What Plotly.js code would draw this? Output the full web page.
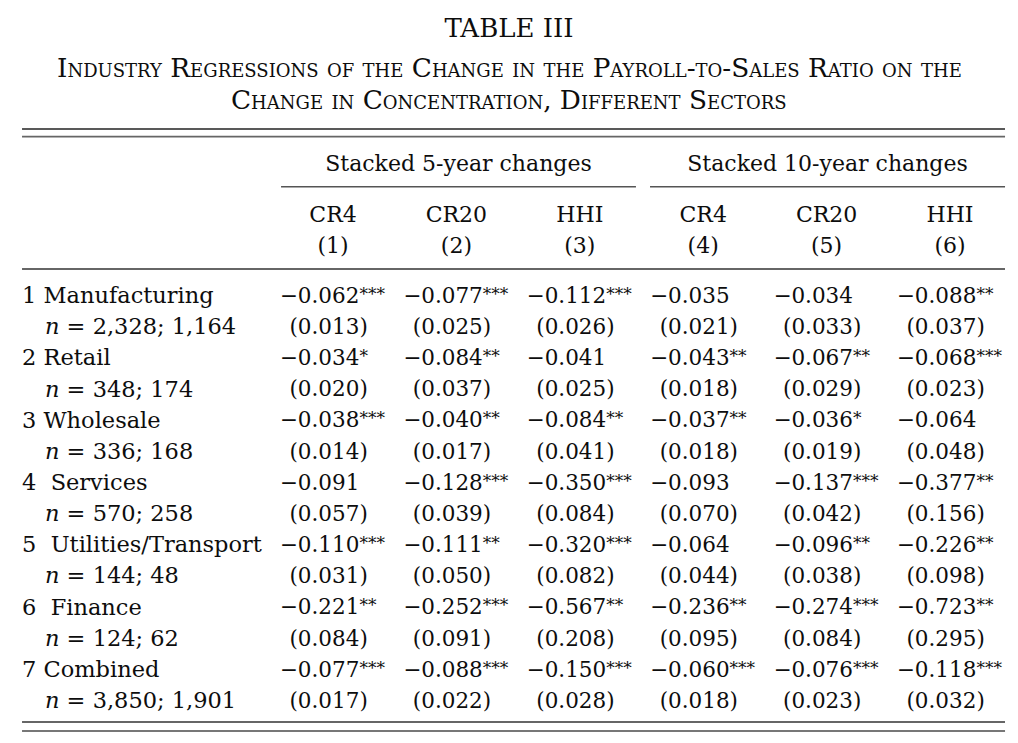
<!DOCTYPE html>
<html>
<head>
<meta charset="utf-8">
<script src="https://cdn.plot.ly/plotly-3.0.1.min.js"></script>
<style>html,body{margin:0;padding:0;background:#fff;}#chart{width:1018px;height:743px;}</style>
</head>
<body>
<div id="chart"></div>
<script>
// ---------- data ----------
const tableTitle = "TABLE III";
const subtitleLine1 = "Industry Regressions of the Change in the Payroll-to-Sales Ratio on the";
const subtitleLine2 = "Change in Concentration, Different Sectors";
const groupLabels = ["Stacked 5-year changes", "Stacked 10-year changes"];
const measureLabels = ["CR4", "CR20", "HHI", "CR4", "CR20", "HHI"];
const columnNumbers = ["(1)", "(2)", "(3)", "(4)", "(5)", "(6)"];
const sectorNames = ["1 Manufacturing", "2 Retail", "3 Wholesale", "4\u00a0 Services",
  "5\u00a0 Utilities/Transport", "6\u00a0 Finance", "7 Combined"];
const sampleSizes = ["2,328; 1,164", "348; 174", "336; 168", "570; 258", "144; 48", "124; 62", "3,850; 1,901"];

const coefCR4_5yr  = [-0.062, -0.034, -0.038, -0.091, -0.110, -0.221, -0.077];
const coefCR20_5yr = [-0.077, -0.084, -0.040, -0.128, -0.111, -0.252, -0.088];
const coefHHI_5yr  = [-0.112, -0.041, -0.084, -0.350, -0.320, -0.567, -0.150];
const coefCR4_10yr = [-0.035, -0.043, -0.037, -0.093, -0.064, -0.236, -0.060];
const coefCR20_10yr= [-0.034, -0.067, -0.036, -0.137, -0.096, -0.274, -0.076];
const coefHHI_10yr = [-0.088, -0.068, -0.064, -0.377, -0.226, -0.723, -0.118];

const starsCR4_5yr  = [3, 1, 3, 0, 3, 2, 3];
const starsCR20_5yr = [3, 2, 2, 3, 2, 3, 3];
const starsHHI_5yr  = [3, 0, 2, 3, 3, 2, 3];
const starsCR4_10yr = [0, 2, 2, 0, 0, 2, 3];
const starsCR20_10yr= [0, 2, 1, 3, 2, 3, 3];
const starsHHI_10yr = [2, 3, 0, 2, 2, 2, 3];

const seCR4_5yr  = [0.013, 0.020, 0.014, 0.057, 0.031, 0.084, 0.017];
const seCR20_5yr = [0.025, 0.037, 0.017, 0.039, 0.050, 0.091, 0.022];
const seHHI_5yr  = [0.026, 0.025, 0.041, 0.084, 0.082, 0.208, 0.028];
const seCR4_10yr = [0.021, 0.018, 0.018, 0.070, 0.044, 0.095, 0.018];
const seCR20_10yr= [0.033, 0.029, 0.019, 0.042, 0.038, 0.084, 0.023];
const seHHI_10yr = [0.037, 0.023, 0.048, 0.156, 0.098, 0.295, 0.032];

// ---------- layout constants ----------
const FONT = "DejaVu Serif, Liberation Serif, serif";
const INK = "#0d0d0d";
const FS_NUM = 21.5, FS_LABEL = 22.5, FS_HEAD = 22;
const coefCols = [coefCR4_5yr, coefCR20_5yr, coefHHI_5yr, coefCR4_10yr, coefCR20_10yr, coefHHI_10yr];
const starCols = [starsCR4_5yr, starsCR20_5yr, starsHHI_5yr, starsCR4_10yr, starsCR20_10yr, starsHHI_10yr];
const seCols = [seCR4_5yr, seCR20_5yr, seHHI_5yr, seCR4_10yr, seCR20_10yr, seHHI_10yr];

const labelX = -1.52, nX = -1.334, digitOff = -0.285;
const yStacked = -4.241, yMeasure = -2.604, yNumber = -1.608;
const groupSpans = [[0.579, 3.455], [3.569, 6.446]];
const fullSpan = [-1.52, 6.446];

function textTrace(x, y, text, pos, size) {
  return {type: "scatter", mode: "text", x: x, y: y, text: text, textposition: pos,
    textfont: {family: FONT, size: size, color: INK}, hoverinfo: "skip", showlegend: false, cliponaxis: false};
}
function starText(n) {
  return n > 0 ? '<span style="font-size:17px;baseline-shift:3px">' + "*".repeat(n) + "</span>" : "";
}

const traces = [];
const rowsCoef = sectorNames.map((_, i) => 2 * i);
const rowsSE = sectorNames.map((_, i) => 2 * i + 1);
traces.push(textTrace(sectorNames.map(() => labelX), rowsCoef, sectorNames, "middle right", FS_LABEL));
traces.push(textTrace(sampleSizes.map(() => nX), rowsSE, sampleSizes.map(s => "<i>n</i> = " + s), "middle right", FS_LABEL));

const mx = [], my = [], mt = [], dx = [], dy = [], dt = [], px = [], py = [], pt = [], sx = [], sy = [], st = [];
coefCols.forEach((col, j) => {
  col.forEach((v, i) => {
    const xa = j + 1 + digitOff;
    if (v < 0) { mx.push(xa); my.push(2 * i); mt.push("\u2212"); }
    dx.push(xa); dy.push(2 * i);
    dt.push(Math.abs(v).toFixed(3) + starText(starCols[j][i]));
    px.push(xa); py.push(2 * i + 1); pt.push("(");
    sx.push(xa); sy.push(2 * i + 1); st.push(seCols[j][i].toFixed(3) + ")");
  });
});
traces.push(textTrace(mx, my, mt, "middle left", FS_NUM));
traces.push(textTrace(dx, dy, dt, "middle right", FS_NUM));
traces.push(textTrace(px, py, pt, "middle left", FS_NUM));
traces.push(textTrace(sx, sy, st, "middle right", FS_NUM));

// headers
traces.push(textTrace(groupSpans.map(s => (s[0] + s[1]) / 2), groupSpans.map(() => yStacked), groupLabels, "middle center", FS_HEAD));
traces.push(textTrace(measureLabels.map((_, j) => j + 1), measureLabels.map(() => yMeasure), measureLabels, "middle center", FS_HEAD));
traces.push(textTrace(columnNumbers.map((_, j) => j + 1), columnNumbers.map(() => yNumber), columnNumbers, "middle center", FS_HEAD));

function hline(x0, x1, y, w, c) {
  return {type: "line", xref: "x", yref: "y", x0: x0, x1: x1, y0: y, y1: y, line: {color: c, width: w}};
}
const shapes = [
  hline(fullSpan[0], fullSpan[1], -5.409, 1.4, "#222"),
  hline(fullSpan[0], fullSpan[1], -5.162, 1.8, "#666"),
  hline(groupSpans[0][0], groupSpans[0][1], -3.557, 1.4, "#555"),
  hline(groupSpans[1][0], groupSpans[1][1], -3.557, 1.4, "#555"),
  hline(fullSpan[0], fullSpan[1], -0.915, 1.6, "#333"),
  hline(fullSpan[0], fullSpan[1], 13.628, 1.4, "#333"),
  hline(fullSpan[0], fullSpan[1], 13.917, 1.8, "#777")
];

const layout = {
  width: 1018, height: 743,
  margin: {l: 0, r: 0, t: 0, b: 0, pad: 0},
  paper_bgcolor: "#fff", plot_bgcolor: "#fff",
  showlegend: false,
  title: {text: tableTitle, x: 0.5, xanchor: "center", y: 1 - 28 / 743, yanchor: "middle", yref: "paper",
    font: {family: FONT, size: 26, color: INK}},
  xaxis: {range: [-1.6985, 6.551], visible: false, fixedrange: true},
  yaxis: {range: [14.302, -9.551], visible: false, fixedrange: true},
  shapes: shapes,
  annotations: [
    {text: subtitleLine1, xref: "paper", yref: "paper", x: 0.5, y: 1 - 68 / 743, xanchor: "center", yanchor: "middle",
      showarrow: false, font: {family: FONT, size: 26.3, color: INK, variant: "small-caps"}},
    {text: subtitleLine2, xref: "paper", yref: "paper", x: 0.5, y: 1 - 100 / 743, xanchor: "center", yanchor: "middle",
      showarrow: false, font: {family: FONT, size: 26.3, color: INK, variant: "small-caps"}}
  ]
};

Plotly.newPlot("chart", traces, layout, {displayModeBar: false, staticPlot: true});
</script>
</body>
</html>
